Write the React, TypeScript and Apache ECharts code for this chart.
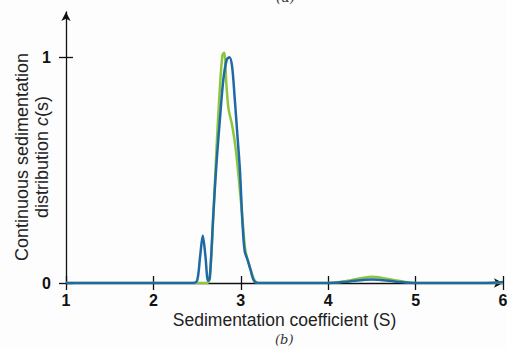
import React, { useEffect, useRef } from "react";
import * as echarts from "echarts";

const blueS = [1, 2.45, 2.5, 2.535, 2.565, 2.595, 2.625, 2.645, 2.685, 2.72, 2.76, 2.8, 2.84, 2.87, 2.9, 2.93, 2.96, 2.99, 3.02, 3.045, 3.08, 3.11, 3.15, 3.2, 4.0, 4.2, 4.5, 4.8, 5.0, 5.8, 6.0];
const blueC = [0, 0, 0.01, 0.12, 0.21, 0.12, 0.01, 0.02, 0.3, 0.52, 0.72, 0.9, 0.99, 1.0, 0.96, 0.82, 0.66, 0.5, 0.26, 0.14, 0.1, 0.06, 0.01, 0, 0, 0.005, 0.016, 0.005, 0, 0, 0.004];
const greenS = [1, 2.6, 2.64, 2.68, 2.72, 2.76, 2.79, 2.81, 2.835, 2.86, 2.9, 2.94, 2.98, 3.02, 3.05, 3.08, 3.12, 3.16, 3.2, 4.0, 4.2, 4.5, 4.8, 5.0, 6.0];
const greenC = [0, 0, 0.01, 0.25, 0.58, 0.86, 1.01, 1.02, 0.88, 0.77, 0.7, 0.6, 0.45, 0.28, 0.15, 0.1, 0.05, 0.01, 0, 0, 0.008, 0.028, 0.01, 0, 0];
const yTicks = [0, 1];

export default function App() {
  const ref = useRef<HTMLDivElement>(null);
  useEffect(() => {
    const chart = echarts.init(ref.current!, null, { renderer: "svg" });
    const axisBlack = { color: "#111", width: 1.3 };
    const labelStyle = { color: "#111", fontWeight: "bold", fontSize: 16, fontFamily: "Liberation Sans" };
    chart.setOption({
      animation: false,
      backgroundColor: "#fdfdfd",
      grid: { left: 66, right: 4, top: 12, bottom: 66, outerBoundsMode: "none", containLabel: false },
      xAxis: [
        {
          type: "value",
          min: 1,
          max: 6,
          interval: 1,
          splitLine: { show: false },
          axisLine: { lineStyle: axisBlack, symbol: ["none", "arrow"], symbolSize: [7, 9] },
          axisTick: { length: 7, lineStyle: axisBlack },
          axisLabel: { ...labelStyle, margin: 9 },
          name: "Sedimentation coefficient (S)",
          nameLocation: "middle",
          nameGap: 28,
          nameMoveOverlap: false,
          nameTextStyle: { color: "#222", fontSize: 17.5, fontFamily: "Liberation Sans", verticalAlign: "top" },
        },
        {
          type: "value",
          min: 1,
          max: 6,
          interval: 1,
          position: "bottom",
          splitLine: { show: false },
          axisLine: { show: false },
          axisTick: { inside: true, length: 7, lineStyle: axisBlack },
          axisLabel: { show: false },
        },
      ],
      yAxis: [
        {
          type: "value",
          min: 0,
          max: 1.2,
          splitLine: { show: false },
          axisLine: { show: true, lineStyle: axisBlack, symbol: ["none", "arrow"], symbolSize: [7, 9] },
          axisTick: { show: true, length: 7, lineStyle: axisBlack, customValues: yTicks },
          axisLabel: { ...labelStyle, margin: 15, customValues: yTicks },
        },
        {
          type: "value",
          min: 0,
          max: 1.2,
          position: "left",
          splitLine: { show: false },
          axisLine: { show: false },
          axisTick: { show: true, inside: true, length: 7, lineStyle: axisBlack, customValues: yTicks },
          axisLabel: { show: false },
        },
      ],
      series: [
        {
          type: "line",
          data: greenS.map((s, i) => [s, greenC[i]]),
          smooth: 0.3,
          showSymbol: false,
          lineStyle: { color: "#8cc63f", width: 2.5 },
          z: 3,
        },
        {
          type: "line",
          data: blueS.map((s, i) => [s, blueC[i]]),
          smooth: 0.3,
          showSymbol: false,
          lineStyle: { color: "#1f6aa5", width: 2.5 },
          z: 4,
        },
      ],
      graphic: [
        {
          type: "text",
          x: 22,
          y: 157,
          rotation: Math.PI / 2,
          style: {
            text: "Continuous sedimentation",
            font: "18px 'Liberation Sans'",
            fill: "#222",
            align: "center",
            verticalAlign: "middle",
          },
        },
        {
          type: "text",
          x: 42,
          y: 157,
          rotation: Math.PI / 2,
          style: {
            text: "distribution {i|c}(s)",
            font: "18px 'Liberation Sans'",
            fill: "#222",
            align: "center",
            verticalAlign: "middle",
            rich: { i: { font: "italic 18px 'Liberation Sans'", fill: "#222" } },
          },
        },
        { type: "text", left: 276, top: -10, style: { text: "(a)", font: "italic 14px 'DejaVu Serif'", fill: "#333" } },
        { type: "text", left: 275, top: 333, style: { text: "(b)", font: "italic 13px 'DejaVu Serif'", fill: "#333" } },
      ],
    });
    return () => chart.dispose();
  }, []);
  return <div ref={ref} style={{ width: 507, height: 349, position: "absolute", left: 0, top: 0 }} />;
}
